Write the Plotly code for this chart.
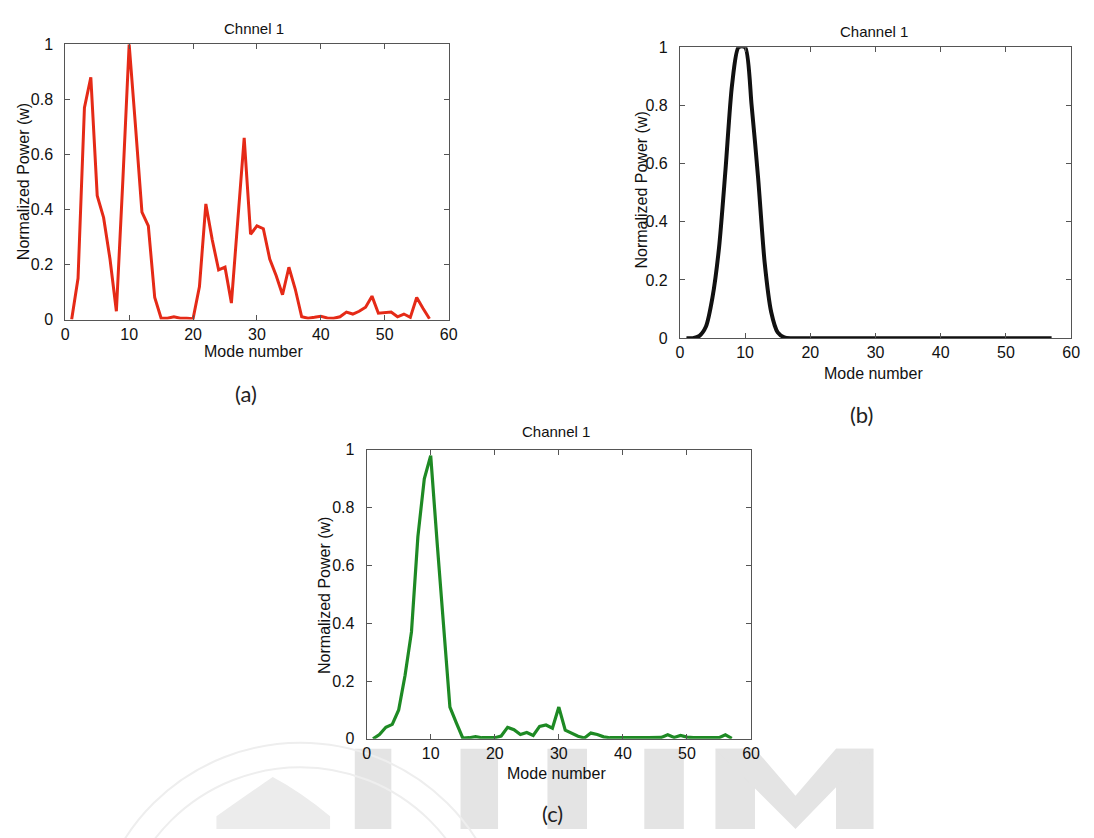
import plotly.graph_objects as go

W, H = 1094, 838

modes = list(range(1, 58))

power_a = [0.0, 0.15, 0.77, 0.88, 0.45, 0.37, 0.22, 0.03, 0.5, 1.0,
           0.70, 0.39, 0.34, 0.08, 0.005, 0.005, 0.01, 0.005, 0.005, 0.003,
           0.12, 0.42, 0.29, 0.18, 0.19, 0.06, 0.36, 0.66, 0.31, 0.34,
           0.33, 0.22, 0.16, 0.09, 0.19, 0.11, 0.01, 0.005, 0.008, 0.012,
           0.006, 0.005, 0.01, 0.027, 0.02, 0.03, 0.045, 0.085, 0.023, 0.025,
           0.027, 0.01, 0.02, 0.008, 0.08, 0.04, 0.003]

power_b = [0.0, 0.0, 0.008, 0.04, 0.14, 0.31, 0.58, 0.87, 1.0, 1.0,
           0.80, 0.55, 0.26, 0.09, 0.02, 0.003, 0.0, 0.0, 0.0, 0.0,
           0.0, 0.0, 0.0, 0.0, 0.0, 0.0, 0.0, 0.0, 0.0, 0.0,
           0.0, 0.0, 0.0, 0.0, 0.0, 0.0, 0.0, 0.0, 0.0, 0.0,
           0.0, 0.0, 0.0, 0.0, 0.0, 0.0, 0.0, 0.0, 0.0, 0.0,
           0.0, 0.0, 0.0, 0.0, 0.0, 0.0, 0.0]

power_c = [0.0, 0.015, 0.04, 0.05, 0.10, 0.22, 0.37, 0.70, 0.90, 0.98,
           0.68, 0.38, 0.11, 0.055, 0.003, 0.004, 0.008, 0.004, 0.004, 0.004,
           0.01, 0.04, 0.032, 0.015, 0.022, 0.012, 0.043, 0.048, 0.037, 0.11,
           0.03, 0.018, 0.009, 0.003, 0.02, 0.015, 0.007, 0.004, 0.003, 0.004,
           0.004, 0.005, 0.004, 0.004, 0.004, 0.005, 0.014, 0.005, 0.012, 0.006,
           0.004, 0.004, 0.004, 0.004, 0.004, 0.014, 0.002]

x_ticks = [0, 10, 20, 30, 40, 50, 60]
y_ticks = [0, 0.2, 0.4, 0.6, 0.8, 1]
y_tick_text = ["0", "0.2", "0.4", "0.6", "0.8", "1"]

titles = ["Chnnel 1", "Channel 1", "Channel 1"]
x_title = "Mode number"
y_title = "Normalized Power (w)"
panel_labels = ["(a)", "(b)", "(c)"]

# plot boxes in pixels: left, right, top, bottom
boxes = [(62, 450, 37, 318), (684, 1080, 40, 337), (367, 756, 451, 746)]
colors = ["#e52a17", "#111111", "#1e8a24"]
widths = [3, 4, 3.2]
shapes_line = ["linear", "spline", "linear"]
series = [power_a, power_b, power_c]

def px(x):
    return x / W

def py(y):
    return 1 - y / H

fig = go.Figure()
FONT = "Liberation Sans, Arial, sans-serif"

for i, (box, col, lw, ys) in enumerate(zip(boxes, colors, widths, series)):
    sfx = "" if i == 0 else str(i + 1)
    fig.add_trace(go.Scatter(x=modes, y=ys, mode="lines",
                             line=dict(color=col, width=lw, shape=shapes_line[i],
                                       smoothing=0.7),
                             xaxis="x" + sfx, yaxis="y" + sfx,
                             showlegend=False, hoverinfo="skip"))
    l, r, t, b = box
    common = dict(showline=True, mirror="ticks", linecolor="#555555", linewidth=1,
                  ticks="inside", ticklen=5, tickcolor="#555555",
                  showgrid=False, zeroline=False,
                  tickfont=dict(family=FONT, size=16, color="#111111"))
    fig.update_layout(**{
        "xaxis" + sfx: dict(domain=[px(l), px(r)], range=[0, 60],
                            tickvals=x_ticks, anchor="y" + sfx, **common),
        "yaxis" + sfx: dict(domain=[py(b), py(t)], range=[0, 1],
                            tickvals=y_ticks, ticktext=y_tick_text,
                            anchor="x" + sfx, ticklabelstandoff=8, **common),
    })

# texts: titles, axis labels, panel labels
title_pos = [(253, 21), (880, 24), (559, 432)]
xlab_pos = [(253, 351), (880, 373), (559, 781)]
ylab_pos = [(20, 177), (645, 186), (325, 600)]
plab_pos = [(245, 393), (868, 415), (555, 822)]

ann = []
for i in range(3):
    ann.append(dict(x=px(title_pos[i][0]), y=py(title_pos[i][1]), xref="paper", yref="paper",
                    text=titles[i], showarrow=False, xanchor="center", yanchor="middle",
                    font=dict(family=FONT, size=15, color="#111111")))
    ann.append(dict(x=px(xlab_pos[i][0]), y=py(xlab_pos[i][1]), xref="paper", yref="paper",
                    text=x_title, showarrow=False, xanchor="center", yanchor="middle",
                    font=dict(family=FONT, size=16, color="#111111")))
    ann.append(dict(x=px(ylab_pos[i][0]), y=py(ylab_pos[i][1]), xref="paper", yref="paper",
                    text=y_title, showarrow=False, xanchor="center", yanchor="middle",
                    textangle=-90,
                    font=dict(family=FONT, size=16, color="#111111")))
    ann.append(dict(x=px(plab_pos[i][0]), y=py(plab_pos[i][1]), xref="paper", yref="paper",
                    text=panel_labels[i], showarrow=False, xanchor="center", yanchor="middle",
                    font=dict(family="Lato, Open Sans, sans-serif", size=22, color="#222222")))

# faint watermark decoration
wm = "#e4e4e4"
shapes = []
def rect(x0, x1, y0, y1, color=wm):
    return dict(type="rect", xref="paper", yref="paper", x0=px(x0), x1=px(x1),
                y0=py(y1), y1=py(y0), fillcolor=color, line=dict(width=0), layer="below")
for (a, b_) in [(355, 392), (462, 500), (550, 590), (648, 688), (720, 760), (842, 880)]:
    shapes.append(rect(a, b_, 756, 838))
# M diagonals
shapes.append(dict(type="path", xref="paper", yref="paper",
                   path="M {} {} L {} {} L {} {} L {} {} L {} {} L {} {} Z".format(
                       px(720), py(756), px(760), py(756), px(801), py(804),
                       px(842), py(756), px(880), py(756), px(801), py(838)),
                   fillcolor=wm, line=dict(width=0), layer="below"))
# logo arcs
for rad in (210, 185):
    shapes.append(dict(type="circle", xref="paper", yref="paper",
                       x0=px(300 - rad), x1=px(300 + rad), y0=py(960 + rad), y1=py(960 - rad),
                       line=dict(color="#eeeeee", width=2), layer="below"))
shapes.append(dict(type="path", xref="paper", yref="paper",
                   path="M {} {} L {} {} Q {} {} {} {} Q {} {} {} {} L {} {} Z".format(
                       px(215), py(838), px(215), py(825), px(250), py(800), px(272), py(785),
                       px(300), py(800), px(330), py(825), px(330), py(838)),
                   fillcolor="#ececec", line=dict(width=0), layer="below"))

fig.update_layout(width=W, height=H, margin=dict(l=0, r=0, t=0, b=0),
                  paper_bgcolor="white", plot_bgcolor="rgba(255,255,255,0)",
                  annotations=ann, shapes=shapes, showlegend=False)

fig.write_html("out.html")
